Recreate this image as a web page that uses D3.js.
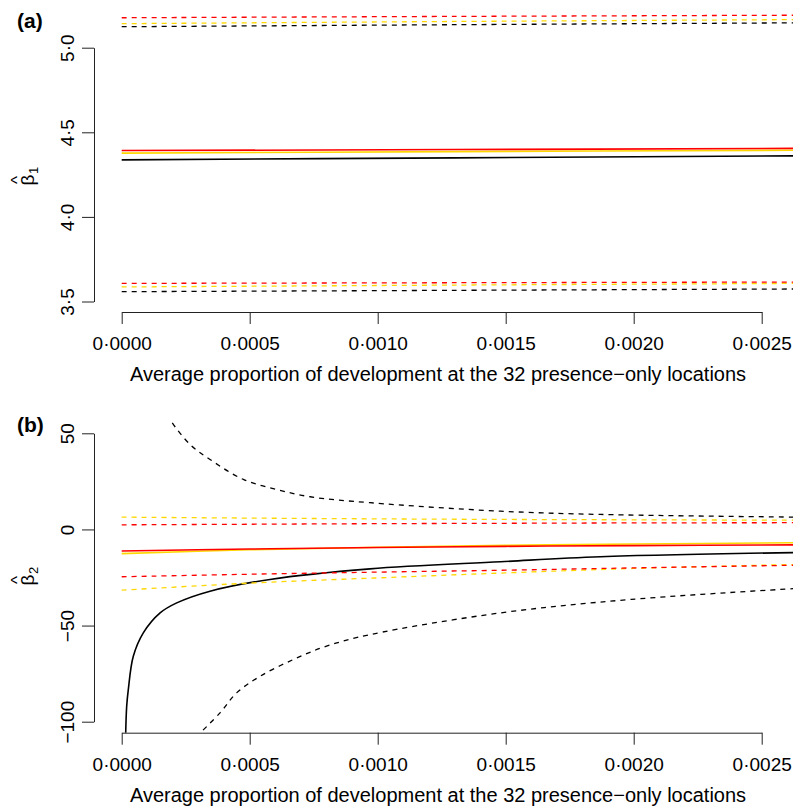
<!DOCTYPE html>
<html>
<head>
<meta charset="utf-8">
<script src="https://cdn.jsdelivr.net/npm/d3@7"></script>
<style>
  body { margin: 0; background: #fff; }
  svg { display: block; }
  text { font-family: "Liberation Sans", Arial, Helvetica, sans-serif; fill: #000; }
</style>
</head>
<body>
<svg id="chart" width="793" height="810"></svg>
<script>
// ---------- Data ----------
const xTicks = [0, 0.0005, 0.0010, 0.0015, 0.0020, 0.0025];
const yTicksA = [3.5, 4.0, 4.5, 5.0];
const yTicksB = [-100, -50, 0, 50];
const xTitle = "Average proportion of development at the 32 presence\u2212only locations";

// Panel (a): beta1 estimates and bounds
const xA = [0, 0.0013, 0.00264];
const aRedUpper    = [5.177, 5.185, 5.192];
const aYellowUpper = [5.142, 5.155, 5.166];
const aBlackUpper  = [5.124, 5.136, 5.147];
const aRedEst      = [4.392, 4.398, 4.405];
const aYellowEst   = [4.377, 4.386, 4.394];
const aBlackEst    = [4.337, 4.349, 4.361];
const aRedLower    = [3.607, 3.611, 3.615];
const aYellowLower = [3.586, 3.597, 3.607];
const aBlackLower  = [3.558, 3.566, 3.574];

// Panel (b): beta2 estimates and bounds
const xB = [0, 0.0005, 0.0010, 0.0015, 0.0020, 0.00264];
const bRedEst      = [-11.2, -10.2, -9.4, -8.8, -8.4, -8.0];
const bYellowEst   = [-12.6, -10.6, -9.3, -8.3, -7.6, -6.9];
const bRedUpper    = [2.4, 2.7, 3.0, 3.2, 3.4, 3.5];
const bYellowUpper = [6.4, 5.9, 5.5, 5.2, 5.0, 4.8];
const bRedLower    = [-24.6, -23.3, -22.2, -21.2, -20.0, -18.6];
const bYellowLower = [-31.6, -27.9, -25.2, -22.6, -20.3, -18.2];

const xBlackEst   = [0.0000156, 0.0000195, 0.0000258, 0.0000453, 0.0000844, 0.00015, 0.000215, 0.000345, 0.000579, 0.00097, 0.00148, 0.00187, 0.00264];
const bBlackEst   = [-106, -91.9, -83.3, -66.0, -53.8, -43.4, -38.2, -32.1, -26.0, -20.5, -16.8, -14.2, -12.0];
const xBlackUpper = [0.00018, 0.000195, 0.000267, 0.000345, 0.000475, 0.000605, 0.000736, 0.00097, 0.00148, 0.00187, 0.00264];
const bBlackUpper = [60, 56, 44.2, 36.4, 26.0, 20.8, 17.0, 13.9, 9.5, 7.8, 6.4];
const xBlackLower = [0.00029, 0.000384, 0.000449, 0.00054, 0.00067, 0.0008, 0.00097, 0.00148, 0.00199, 0.00264];
const bBlackLower = [-108, -95.4, -85.0, -76.4, -67.7, -60.7, -54.7, -43.4, -36.4, -30.7];

// ---------- Drawing ----------
const svg = d3.select("#chart");
const RED = "#FF0000", YELLOW = "#FFD700", BLACK = "#000000";
const fmtX = v => d3.format(".4f")(v).replace(".", "\u00B7");
const fmtYA = v => d3.format(".1f")(v).replace(".", "\u00B7");
const fmtYB = v => d3.format("d")(v).replace("-", "\u2212");

const plotLeft = 94, plotRight = 797;

function panel(cfg) {
  const x = d3.scaleLinear().domain([0, 0.0025]).range([121.7, 761.7]);
  const y = d3.scaleLinear().domain(cfg.yDomain).range(cfg.yRange);
  const g = svg.append("g");

  const clipId = "clip-" + cfg.id;
  svg.append("clipPath").attr("id", clipId).append("rect")
    .attr("x", plotLeft).attr("y", cfg.clipTop)
    .attr("width", plotRight - plotLeft).attr("height", cfg.axisY - cfg.clipTop);

  const lines = g.append("g").attr("clip-path", `url(#${clipId})`);
  const lineGen = d3.line().x(d => x(d[0])).y(d => y(d[1])).curve(d3.curveCatmullRom.alpha(0.5));
  cfg.series.forEach(s => {
    const pts = s.xs.map((xv, i) => [xv, s.ys[i]]);
    lines.append("path")
      .attr("d", lineGen(pts))
      .attr("fill", "none")
      .attr("stroke", s.color)
      .attr("stroke-width", s.dashed ? 1.3 : 1.6)
      .attr("stroke-dasharray", s.dashed ? "5,5" : null);
  });

  // x axis
  const xAxis = g.append("g").attr("transform", `translate(0,${cfg.axisY})`)
    .call(d3.axisBottom(x).tickValues(xTicks).tickFormat(fmtX).tickSize(12).tickSizeOuter(0));
  xAxis.select(".domain").attr("stroke", "#222");
  xAxis.selectAll(".tick line").attr("stroke", "#222");
  xAxis.selectAll(".tick text").attr("y", 38).attr("dy", 0)
    .style("font-size", "19px").style("font-family", "Liberation Sans, Arial, sans-serif");

  // y axis
  const yAxis = g.append("g").attr("transform", `translate(${plotLeft},0)`)
    .call(d3.axisLeft(y).tickValues(cfg.yTicks).tickFormat(cfg.fmtY).tickSize(12).tickSizeOuter(0));
  yAxis.select(".domain").attr("stroke", "#222");
  yAxis.selectAll(".tick line").attr("stroke", "#222");
  yAxis.selectAll(".tick text")
    .attr("x", 0).attr("dy", 0)
    .attr("text-anchor", "middle")
    .attr("transform", "translate(-20,0) rotate(-90)")
    .style("font-size", "19px").style("font-family", "Liberation Sans, Arial, sans-serif");

  // x title
  svg.append("text").attr("x", 438).attr("y", cfg.axisY + 69)
    .attr("text-anchor", "middle").style("font-size", "20px").text(xTitle);

  // y title (beta hat with subscript)
  const yl = svg.append("g").attr("transform", `translate(34,${cfg.yLabelY}) rotate(-90)`);
  yl.append("text").attr("x", 0).attr("y", 0).attr("text-anchor", "middle")
    .style("font-size", "19px").text("\u03B2");
  yl.append("text").attr("x", 0).attr("y", -11).attr("text-anchor", "middle")
    .style("font-size", "17px").text("^");
  yl.append("text").attr("x", 6).attr("y", 4).attr("text-anchor", "start")
    .style("font-size", "13px").text(cfg.sub);

  // panel label
  svg.append("text").attr("x", 17).attr("y", cfg.labelY)
    .style("font-size", "21px").style("font-weight", "bold").text(cfg.label);
}

panel({
  id: "a", label: "(a)", labelY: 28, sub: "1",
  yDomain: [3.5, 5.0], yRange: [301.5, 47.7], yTicks: yTicksA, fmtY: fmtYA,
  axisY: 312, clipTop: 0, yLabelY: 180,
  series: [
    { xs: xA, ys: aBlackUpper, color: BLACK, dashed: true },
    { xs: xA, ys: aYellowUpper, color: YELLOW, dashed: true },
    { xs: xA, ys: aRedUpper, color: RED, dashed: true },
    { xs: xA, ys: aBlackEst, color: BLACK, dashed: false },
    { xs: xA, ys: aYellowEst, color: YELLOW, dashed: false },
    { xs: xA, ys: aRedEst, color: RED, dashed: false },
    { xs: xA, ys: aBlackLower, color: BLACK, dashed: true },
    { xs: xA, ys: aYellowLower, color: YELLOW, dashed: true },
    { xs: xA, ys: aRedLower, color: RED, dashed: true }
  ]
});

panel({
  id: "b", label: "(b)", labelY: 432, sub: "2",
  yDomain: [-100, 50], yRange: [721.7, 433.3], yTicks: yTicksB, fmtY: fmtYB,
  axisY: 732.7, clipTop: 421, yLabelY: 580,
  series: [
    { xs: xBlackUpper, ys: bBlackUpper, color: BLACK, dashed: true },
    { xs: xBlackEst, ys: bBlackEst, color: BLACK, dashed: false },
    { xs: xBlackLower, ys: bBlackLower, color: BLACK, dashed: true },
    { xs: xB, ys: bYellowUpper, color: YELLOW, dashed: true },
    { xs: xB, ys: bYellowEst, color: YELLOW, dashed: false },
    { xs: xB, ys: bYellowLower, color: YELLOW, dashed: true },
    { xs: xB, ys: bRedUpper, color: RED, dashed: true },
    { xs: xB, ys: bRedEst, color: RED, dashed: false },
    { xs: xB, ys: bRedLower, color: RED, dashed: true }
  ]
});
</script>
</body>
</html>
